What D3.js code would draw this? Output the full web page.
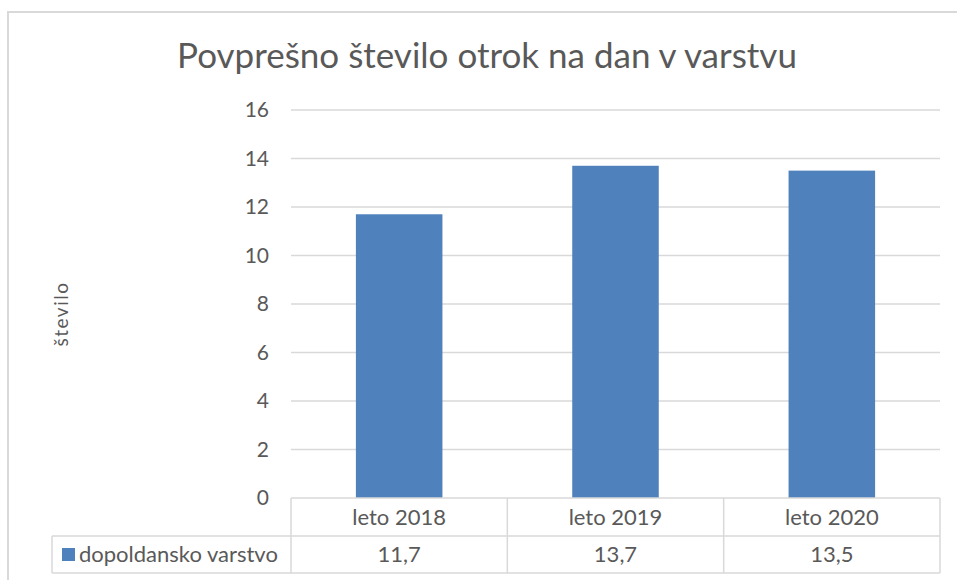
<!DOCTYPE html>
<html>
<head>
<meta charset="utf-8">
<script src="https://cdn.jsdelivr.net/npm/d3@7"></script>
<style>
  body { margin: 0; background: #fff; }
  text { font-family: Lato, "Open Sans", sans-serif; fill: #595959; }
</style>
</head>
<body>
<div class="chart"></div>
<script>
// data
const categories = ["leto 2018", "leto 2019", "leto 2020"];
const values = [11.7, 13.7, 13.5];
const valueLabels = ["11,7", "13,7", "13,5"];
const seriesName = "dopoldansko varstvo";
const yTicks = [0, 2, 4, 6, 8, 10, 12, 14, 16];

const width = 957, height = 580;
const plot = {left: 291, right: 940, top: 110, bottom: 498};

const svg = d3.select(".chart")
    .append("svg")
    .attr("width", width)
    .attr("height", height);

// outer chart border
svg.append("rect")
    .attr("x", 8).attr("y", 12)
    .attr("width", 970).attr("height", 600)
    .attr("fill", "none")
    .attr("stroke", "#d9d9d9")
    .attr("stroke-width", 2);

const xScale = d3.scaleBand()
    .domain(categories)
    .range([plot.left, plot.right]);

const yScale = d3.scaleLinear()
    .domain([0, 16])
    .range([plot.bottom, plot.top]);

// gridlines
svg.selectAll(".grid")
    .data(yTicks.filter(d => d > 0))
    .enter()
    .append("line")
    .attr("x1", plot.left)
    .attr("x2", plot.right)
    .attr("y1", d => yScale(d))
    .attr("y2", d => yScale(d))
    .attr("stroke", "#d9d9d9")
    .attr("stroke-width", 1.5);

// y axis labels
const yAxis = d3.axisLeft(yScale)
    .tickValues(yTicks)
    .tickSize(0)
    .tickPadding(0);
const yg = svg.append("g")
    .attr("transform", `translate(${plot.left - 22}, 0)`)
    .call(yAxis);
yg.select(".domain").remove();
yg.selectAll("text")
    .attr("font-size", 21)
    .attr("font-family", "Lato")
    .attr("fill", "#595959");

// bars
const barW = xScale.bandwidth() * 0.4;
svg.selectAll(".bar")
    .data(values)
    .enter()
    .append("rect")
    .attr("x", (d, i) => xScale(categories[i]) + (xScale.bandwidth() - barW) / 2)
    .attr("y", d => yScale(d))
    .attr("width", barW)
    .attr("height", d => yScale(0) - yScale(d))
    .attr("fill", "#4f81bd");

// title
svg.append("text")
    .attr("x", 487)
    .attr("y", 68)
    .attr("text-anchor", "middle")
    .attr("font-size", 35)
    .text("Povprešno število otrok na dan v varstvu");

// y axis title
svg.append("text")
    .attr("transform", "translate(68, 314) rotate(-90)")
    .attr("text-anchor", "middle")
    .attr("font-size", 19)
    .attr("letter-spacing", 1.5)
    .text("število");

// data table
const rowTop = plot.bottom, rowMid = 536, rowBot = 573, legendLeft = 52;
const table = svg.append("g")
    .attr("stroke", "#d9d9d9")
    .attr("stroke-width", 1.5);
table.append("line").attr("x1", plot.left).attr("x2", plot.right).attr("y1", rowTop).attr("y2", rowTop);
table.append("line").attr("x1", legendLeft).attr("x2", plot.right).attr("y1", rowMid).attr("y2", rowMid);
table.append("line").attr("x1", legendLeft).attr("x2", plot.right).attr("y1", rowBot).attr("y2", rowBot);
table.append("line").attr("x1", legendLeft).attr("x2", legendLeft).attr("y1", rowMid).attr("y2", rowBot);
table.selectAll(".vline")
    .data(categories.concat(["end"]))
    .enter()
    .append("line")
    .attr("x1", (d, i) => i < categories.length ? xScale(d) : plot.right)
    .attr("x2", (d, i) => i < categories.length ? xScale(d) : plot.right)
    .attr("y1", rowTop)
    .attr("y2", rowBot);

svg.selectAll(".cat")
    .data(categories)
    .enter()
    .append("text")
    .attr("x", d => xScale(d) + xScale.bandwidth() / 2)
    .attr("y", (rowTop + rowMid) / 2)
    .attr("dy", "0.35em")
    .attr("text-anchor", "middle")
    .attr("font-size", 22)
    .text(d => d);

svg.selectAll(".val")
    .data(valueLabels)
    .enter()
    .append("text")
    .attr("x", (d, i) => xScale(categories[i]) + xScale.bandwidth() / 2)
    .attr("y", (rowMid + rowBot) / 2)
    .attr("dy", "0.35em")
    .attr("text-anchor", "middle")
    .attr("font-size", 22)
    .text(d => d);

// legend key
svg.append("rect")
    .attr("x", 62)
    .attr("y", 548)
    .attr("width", 13)
    .attr("height", 13)
    .attr("fill", "#4f81bd");
svg.append("text")
    .attr("x", 79)
    .attr("y", (rowMid + rowBot) / 2)
    .attr("dy", "0.35em")
    .attr("font-size", 22)
    .text(seriesName);
</script>
</body>
</html>
